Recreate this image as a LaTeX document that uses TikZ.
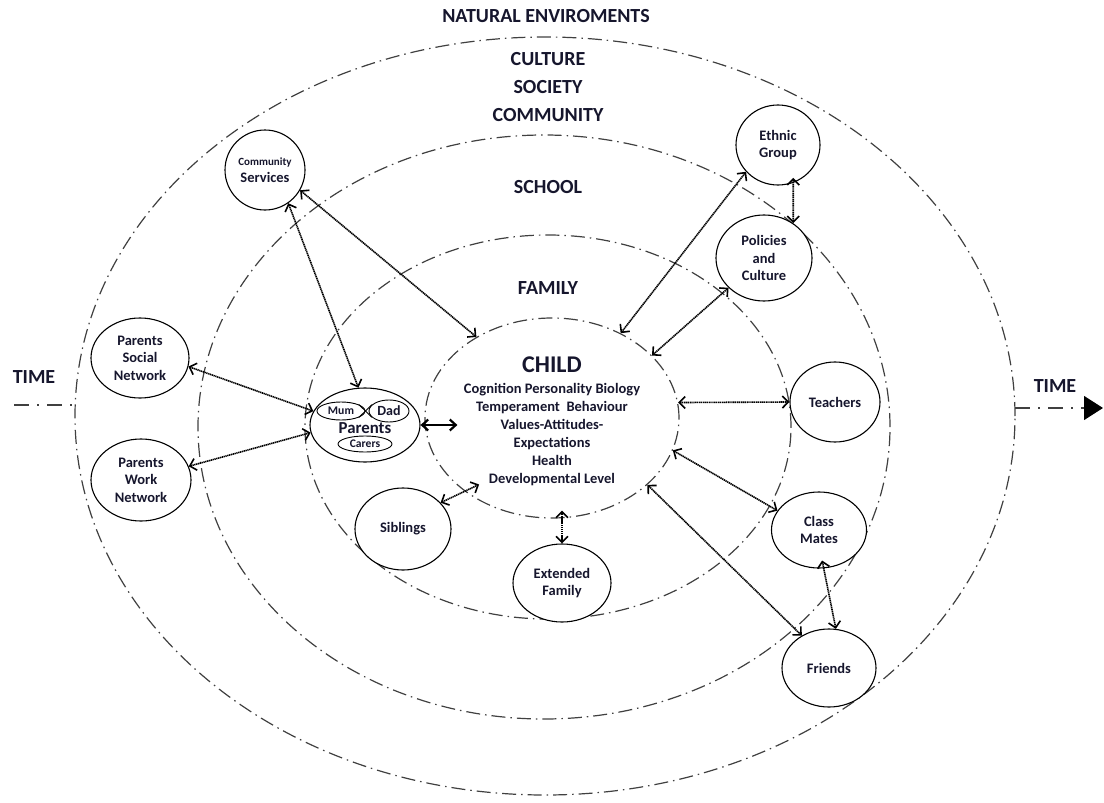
\documentclass[tikz,border=0pt]{standalone}
\usepackage{fontspec}
\setmainfont{Carlito}
\usetikzlibrary{arrows.meta,shapes.geometric}
\definecolor{ink}{RGB}{22,22,45}
\begin{document}
\begin{tikzpicture}[x=1pt,y=-1pt,
  ring/.style={draw=black!75, line width=1.2pt, dash pattern=on 14pt off 5pt on 1.5pt off 5pt, ellipse, inner sep=0pt},
  bub/.style={draw=black, fill=white, line width=1.1pt, ellipse, inner sep=0pt, align=center, text=ink, font=\fontsize{14.5}{17.5}\selectfont\bfseries},
  small/.style={draw=black, line width=0.9pt, ellipse, inner sep=0pt, text=ink},
  lab/.style={text=ink, font=\fontsize{20}{24}\selectfont\bfseries, inner sep=0pt, anchor=base},
  link/.style={<->, >={Straight Barb[length=6pt,width=12pt]}, line width=1.6pt, draw=black, dash pattern=on 1.3pt off 0.6pt},
  timeline/.style={draw=black!75, line width=1.2pt, dash pattern=on 15pt off 8pt on 2pt off 8pt},
]
\useasboundingbox (0,0) rectangle (1104,803);

% rings
\node[ring, minimum width=940pt, minimum height=758pt] (e1) at (545,416) {};
\node[ring, minimum width=692pt, minimum height=584pt] (e2) at (544,427) {};
\node[ring, minimum width=486pt, minimum height=384pt] (e3) at (548,427) {};
\node[ring, minimum width=254pt, minimum height=200pt] (child) at (552,418) {};

% ring labels
\node[lab] (lnat) at (546,23) {NATURAL ENVIROMENTS};
\node[lab] (lcul) at (548,65) {CULTURE};
\node[lab] (lsoc) at (548,93) {SOCIETY};
\node[lab] (lcom) at (548,121) {COMMUNITY};
\node[lab] (lsch) at (548,193) {SCHOOL};
\node[lab] (lfam) at (548,294) {FAMILY};
\node[lab] (ltimeL) at (34,383) {TIME};
\node[lab] (ltimeR) at (1055,392) {TIME};

% time lines
\coordinate (tl0) at (14,405);
\coordinate (tl1) at (73,405);
\coordinate (tr0) at (1015,408);
\coordinate (tr1) at (1103,408);
\draw[timeline] (tl0) -- (tl1);
\draw[timeline, -{Triangle[length=19pt,width=24pt,color=black,fill=black]}] (tr0) -- (tr1);

% child text
\node[text=ink, font=\fontsize{24}{26}\selectfont\bfseries, inner sep=0pt, anchor=base] (ctitle) at (552,372) {CHILD};
\node[text=ink, font=\fontsize{14.5}{18}\selectfont\bfseries, inner sep=0pt, align=center] (ctext) at (552,434.5)
  {Cognition Personality Biology\\ Temperament\ \ Behaviour\\ Values-Attitudes-\\ Expectations\\ Health\\ Developmental Level};

% bubbles
\node[bub, minimum width=80pt, minimum height=80pt] (cs) at (265,170) {{\fontsize{11}{13}\selectfont Community}\\ Services};
\node[bub, minimum width=84pt, minimum height=80pt] (eth) at (778,145) {Ethnic\\ Group};
\node[bub, minimum width=96pt, minimum height=86pt] (pol) at (764,258) {Policies\\ and\\ Culture};
\node[bub, minimum width=98pt, minimum height=80pt] (psn) at (140,358) {Parents\\ Social\\ Network};
\node[bub, minimum width=100pt, minimum height=82pt] (pwn) at (141,480) {Parents\\ Work\\ Network};
\node[bub, minimum width=110pt, minimum height=74pt] (par) at (365,425) {};
\node[text=ink, font=\fontsize{16.8}{18}\selectfont\bfseries, inner sep=0pt, anchor=base] (ptxt) at (365,433) {Parents};
\node[bub, minimum width=96pt, minimum height=82pt] (sib) at (403,529) {Siblings};
\node[bub, minimum width=98pt, minimum height=78pt] (ext) at (562,583) {Extended\\ Family};
\node[bub, minimum width=90pt, minimum height=80pt] (tea) at (835,402) {Teachers};
\node[bub, minimum width=95pt, minimum height=76pt] (cm) at (819,530) {Class\\ Mates};
\node[bub, minimum width=94pt, minimum height=78pt] (fr) at (829,668) {Friends};

% parents inner
\node[small, minimum width=48pt, minimum height=18pt, font=\fontsize{11.7}{13}\selectfont\bfseries] (mum) at (341,411) {Mum};
\node[small, minimum width=40pt, minimum height=22pt, font=\fontsize{14}{15}\selectfont\bfseries] (dad) at (389,411) {Dad};
\node[small, minimum width=54pt, minimum height=16pt, font=\fontsize{11.6}{13}\selectfont\bfseries] (carers) at (365,444) {Carers};
\draw[line width=0.9pt] (mum.20) -- (dad.200);
\draw[line width=0.9pt] (mum.-20) -- (dad.160);

% connectors
\draw[link] (cs.-55) -- (par.100);
\draw[link] (cs.-30) -- (child.133);
\draw[link] (psn.-10) -- (par.165);
\draw[link] (pwn.16) -- (par.188);
\coordinate (pc) at ([xshift=33pt]child.west);
\draw[<->, >={Straight Barb[length=6pt,width=11pt]}, line width=2.2pt] (par.east) -- (pc |- par.east);
\draw[link] (eth.-140) -- (child.51);
\draw[link, shorten <=-5pt] (eth.-68) -- (pol.50);
\draw[link] (pol.-140) -- (child.32);
\draw[link] (child.7) -- (tea.west);
\draw[link] (child.-15) -- (cm.155);
\draw[link] (child.-35) -- (fr.130);
\draw[link, shorten >=-16pt] (sib.35) -- (child.-140);
\draw[link, shorten >=-8pt] (ext.north) -- (ext.north |- child.south);
\draw[link, shorten <=-8pt] (cm.-83) -- (fr.80);
\end{tikzpicture}
\end{document}
